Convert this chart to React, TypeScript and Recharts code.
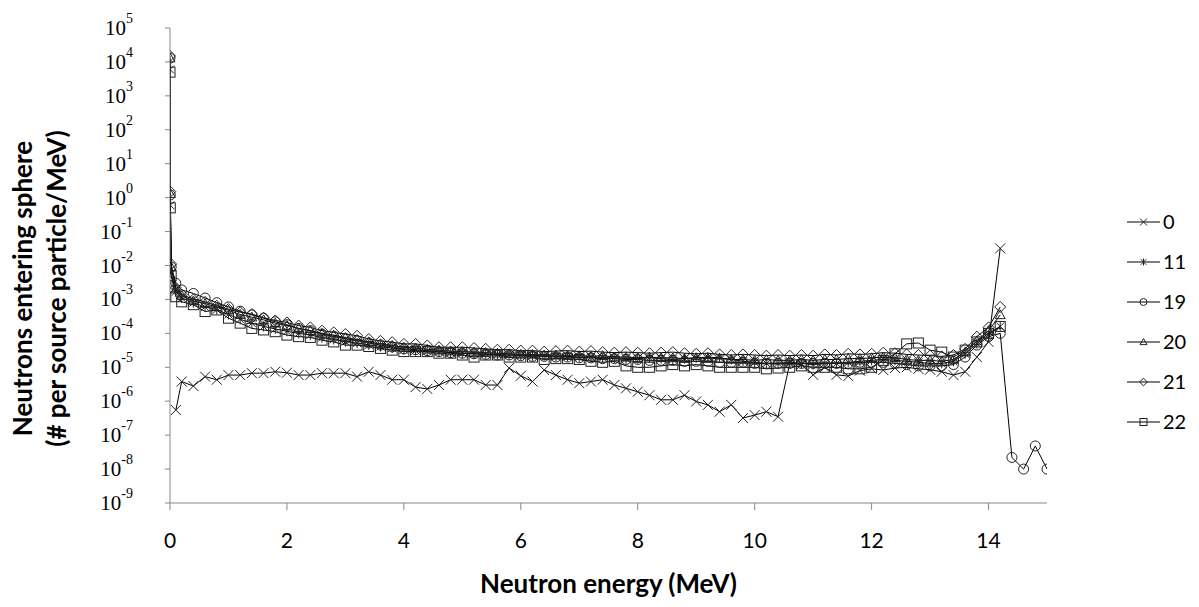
import React from 'react';
import { LineChart, Line, XAxis, YAxis, Legend } from 'recharts';

const ENERGY = [0, 0.005, 0.02, 0.1, 0.2, 0.4, 0.6, 0.8, 1, 1.2, 1.4, 1.6, 1.8, 2, 2.2, 2.4, 2.6, 2.8, 3, 3.2, 3.4, 3.6, 3.8, 4, 4.2, 4.4, 4.6, 4.8, 5, 5.2, 5.4, 5.6, 5.8, 6, 6.2, 6.4, 6.6, 6.8, 7, 7.2, 7.4, 7.6, 7.8, 8, 8.2, 8.4, 8.6, 8.8, 9, 9.2, 9.4, 9.6, 9.8, 10, 10.2, 10.4, 10.6, 10.8, 11, 11.2, 11.4, 11.6, 11.8, 12, 12.2, 12.4, 12.6, 12.8, 13, 13.2, 13.4, 13.6, 13.8, 14, 14.2, 14.4, 14.6, 14.8, 15];

const S0 = [null, null, null,
  5.5e-7, 3.8e-6, 2.8e-6, 5.3e-6, 4.3e-6, 5.9e-6, 5.9e-6, 6.7e-6, 6.7e-6, 7.4e-6, 6.9e-6, 5.9e-6, 5.9e-6, 6.7e-6, 6.7e-6, 6.7e-6, 5.3e-6, 7.4e-6, 5.9e-6, 4.3e-6, 4.3e-6, 2.6e-6, 2.3e-6, 3.0e-6, 4.3e-6, 4.3e-6, 4.3e-6, 3.0e-6, 3.0e-6, 9.5e-6, 5.6e-6, 3.8e-6, 8.3e-6, 5.9e-6, 4.3e-6, 3.4e-6, 3.8e-6, 4.3e-6, 3.0e-6, 2.4e-6, 1.9e-6, 1.5e-6, 1.1e-6, 1.1e-6, 1.5e-6, 9.8e-7, 7.8e-7, 4.9e-7, 7.8e-7, 3.2e-7, 3.9e-7, 4.9e-7, 3.5e-7, 1.3e-5, 1.2e-5, 6e-6, 1.0e-5, 6e-6, 5.5e-6, 8e-6, 9e-6, 8.3e-6, 9.5e-6, 1.0e-5, 9e-6, 8.5e-6, 7.4e-6, 5.9e-6, 7.4e-6, 2e-5, 5.6e-5, 3.2e-2,
  null, null, null, null];

const S11 = [6e3, 0.6, 6e-3,
  1.7e-3, 1.1e-3, 8e-4, 6e-4, 5e-4, 3.6e-4, 2.6e-4, 2.0e-4, 1.6e-4, 1.35e-4, 1.15e-4, 1.0e-4, 9e-5, 7.5e-5, 6.6e-5, 5.7e-5, 5.2e-5, 4.6e-5, 4.1e-5, 3.7e-5, 3.3e-5, 3.1e-5, 3.0e-5, 2.9e-5, 2.7e-5, 2.6e-5, 2.5e-5, 2.5e-5, 2.4e-5, 2.3e-5, 2.3e-5, 2.2e-5, 2.2e-5, 2.1e-5, 2.1e-5, 2.0e-5, 2.0e-5, 1.9e-5, 1.9e-5, 1.8e-5, 1.8e-5, 1.9e-5, 1.8e-5, 1.7e-5, 1.8e-5, 1.9e-5, 2.0e-5, 1.9e-5, 1.7e-5, 1.5e-5, 1.4e-5, 1.3e-5, 1.3e-5, 1.4e-5, 1.3e-5, 1.2e-5, 1.3e-5, 1.3e-5, 1.4e-5, 1.5e-5, 1.6e-5, 1.7e-5, 1.6e-5, 1.5e-5, 1.4e-5, 1.3e-5, 1.3e-5, 1.5e-5, 2.5e-5, 5e-5, 9e-5, 1.6e-4,
  null, null, null, null];

const S19 = [1.3e4, 1.2, 9e-3,
  3.0e-3, 1.9e-3, 1.5e-3, 1.1e-3, 8e-4, 6e-4, 4.5e-4, 3.5e-4, 2.8e-4, 2.2e-4, 1.8e-4, 1.4e-4, 1.2e-4, 9.5e-5, 8.2e-5, 7e-5, 6.1e-5, 5.2e-5, 4.5e-5, 4.0e-5, 3.5e-5, 3.3e-5, 3.1e-5, 2.9e-5, 2.7e-5, 2.6e-5, 2.5e-5, 2.4e-5, 2.3e-5, 2.3e-5, 2.2e-5, 2.1e-5, 2.1e-5, 2.0e-5, 2.0e-5, 1.9e-5, 1.9e-5, 1.8e-5, 1.8e-5, 1.7e-5, 1.7e-5, 1.6e-5, 1.6e-5, 1.6e-5, 1.5e-5, 1.5e-5, 1.5e-5, 1.4e-5, 1.4e-5, 1.4e-5, 1.3e-5, 1.3e-5, 1.3e-5, 1.3e-5, 1.3e-5, 1.3e-5, 1.3e-5, 1.3e-5, 1.3e-5, 1.4e-5, 1.4e-5, 1.4e-5, 1.3e-5, 1.2e-5, 1.1e-5, 1.1e-5, 1.1e-5, 1.2e-5, 2.0e-5, 4.5e-5, 8e-5, 1.0e-4,
  2.2e-8, 1.0e-8, 4.8e-8, 1.0e-8];

const S20 = [1.3e4, 1.3, 9e-3,
  2.0e-3, 1.3e-3, 9e-4, 7.5e-4, 6e-4, 4.8e-4, 3.6e-4, 3.0e-4, 2.5e-4, 2.0e-4, 1.7e-4, 1.4e-4, 1.2e-4, 1.0e-4, 8.8e-5, 7.5e-5, 6.6e-5, 5.6e-5, 4.9e-5, 4.4e-5, 3.9e-5, 3.7e-5, 3.4e-5, 3.2e-5, 3.0e-5, 2.9e-5, 2.8e-5, 2.7e-5, 2.6e-5, 2.5e-5, 2.4e-5, 2.4e-5, 2.3e-5, 2.3e-5, 2.2e-5, 2.2e-5, 2.1e-5, 2.2e-5, 2.0e-5, 2.0e-5, 1.9e-5, 2.0e-5, 1.9e-5, 1.9e-5, 1.8e-5, 1.9e-5, 1.8e-5, 1.8e-5, 1.7e-5, 1.7e-5, 1.6e-5, 1.7e-5, 1.6e-5, 1.6e-5, 1.7e-5, 1.6e-5, 1.7e-5, 1.7e-5, 1.8e-5, 1.8e-5, 1.9e-5, 2.0e-5, 1.9e-5, 1.7e-5, 1.6e-5, 1.6e-5, 1.5e-5, 1.7e-5, 2.8e-5, 6e-5, 1.2e-4, 3.5e-4,
  null, null, null, null];

const S21 = [1.5e4, 1.5, 1.1e-2,
  2.2e-3, 1.4e-3, 1.0e-3, 8.5e-4, 6.5e-4, 5.2e-4, 4.2e-4, 3.7e-4, 2.9e-4, 2.4e-4, 2.1e-4, 1.7e-4, 1.5e-4, 1.2e-4, 1.07e-4, 9.6e-5, 8.5e-5, 6.8e-5, 6.0e-5, 5.5e-5, 4.9e-5, 4.9e-5, 4.4e-5, 3.9e-5, 3.9e-5, 3.9e-5, 3.7e-5, 3.5e-5, 3.3e-5, 3.3e-5, 3.1e-5, 3.1e-5, 2.9e-5, 3.0e-5, 3.1e-5, 2.9e-5, 3.0e-5, 2.8e-5, 2.7e-5, 2.8e-5, 2.7e-5, 2.6e-5, 2.7e-5, 2.8e-5, 2.6e-5, 2.5e-5, 2.6e-5, 2.4e-5, 2.3e-5, 2.4e-5, 2.3e-5, 2.2e-5, 2.3e-5, 2.2e-5, 2.3e-5, 2.2e-5, 2.4e-5, 2.3e-5, 2.5e-5, 2.4e-5, 2.5e-5, 2.7e-5, 2.6e-5, 2.4e-5, 2.3e-5, 2.2e-5, 2.1e-5, 2.3e-5, 3.5e-5, 8e-5, 1.5e-4, 6e-4,
  null, null, null, null];

const S22 = [5e3, 0.5, 5e-3,
  1.2e-3, 8.5e-4, 7e-4, 4.4e-4, 4.9e-4, 2.8e-4, 2.0e-4, 1.4e-4, 1.26e-4, 1.12e-4, 8.9e-5, 8e-5, 7.6e-5, 6.3e-5, 5.6e-5, 4.5e-5, 4.5e-5, 4.1e-5, 3.6e-5, 3.2e-5, 2.9e-5, 2.9e-5, 2.9e-5, 2.6e-5, 2.6e-5, 2.3e-5, 2.0e-5, 2.3e-5, 2.3e-5, 2.0e-5, 2.0e-5, 2.0e-5, 1.7e-5, 1.8e-5, 1.8e-5, 1.7e-5, 1.5e-5, 1.4e-5, 1.5e-5, 1.1e-5, 1.0e-5, 1.0e-5, 1.1e-5, 1.2e-5, 1.1e-5, 1.2e-5, 1.1e-5, 1.0e-5, 1.0e-5, 1.0e-5, 1.0e-5, 9e-6, 9.5e-6, 1.0e-5, 1.1e-5, 1.0e-5, 1.0e-5, 1.0e-5, 9e-6, 9e-6, 1.0e-5, 1.6e-5, 2.5e-5, 4.9e-5, 5.2e-5, 3.2e-5, 2.8e-5, 2.0e-5, 3.2e-5, 5.6e-5, 1.0e-4, 1.6e-4,
  null, null, null, null];

const SERIES_NAMES = ['0', '11', '19', '20', '21', '22'];
const SERIES_SHAPES = ['cross', 'asterisk', 'circle', 'triangle', 'diamond', 'square'];
const SERIES_VALUES = [S0, S11, S19, S20, S21, S22];

const X_TICKS = [0, 2, 4, 6, 8, 10, 12, 14];
const Y_TICKS = [1e-9, 1e-8, 1e-7, 1e-6, 1e-5, 1e-4, 1e-3, 1e-2, 1e-1, 1e0, 1e1, 1e2, 1e3, 1e4, 1e5];

const FONT = 'Lato, "Open Sans", sans-serif';
const SERIF = '"Liberation Serif", "DejaVu Serif", serif';
const AXIS_GREY = '#868686';
const MARK = '#222';

function Marker({ shape, cx, cy, s }: { shape: string; cx: number; cy: number; s: number }) {
  const common = { fill: 'none', stroke: MARK, strokeWidth: 1 };
  switch (shape) {
    case 'cross':
      return <path d={`M${cx - s},${cy - s}L${cx + s},${cy + s}M${cx - s},${cy + s}L${cx + s},${cy - s}`} {...common} />;
    case 'asterisk': {
      const d = s * 0.8;
      return <path d={`M${cx - d},${cy - d}L${cx + d},${cy + d}M${cx - d},${cy + d}L${cx + d},${cy - d}M${cx},${cy - s}L${cx},${cy + s}`} {...common} />;
    }
    case 'circle':
      return <circle cx={cx} cy={cy} r={s} {...common} />;
    case 'triangle':
      return <path d={`M${cx},${cy - s}L${cx + s},${cy + s * 0.75}L${cx - s},${cy + s * 0.75}Z`} {...common} />;
    case 'diamond':
      return <path d={`M${cx},${cy - s * 1.1}L${cx + s * 1.1},${cy}L${cx},${cy + s * 1.1}L${cx - s * 1.1},${cy}Z`} {...common} />;
    default:
      return <rect x={cx - s} y={cy - s} width={2 * s} height={2 * s} {...common} />;
  }
}

const makeDot = (shape: string) => (props: any) => {
  const { cx, cy, index } = props;
  if (cx == null || cy == null || isNaN(cx) || isNaN(cy)) return <g key={`e-${shape}-${index}`} />;
  return (
    <g key={`d-${shape}-${index}`}>
      <Marker shape={shape} cx={cx} cy={cy} s={5} />
    </g>
  );
};

const YTick = (props: any) => {
  const { x, y, payload } = props;
  const e = Math.round(Math.log10(payload.value));
  return (
    <text x={x} y={y + 7} textAnchor="end" fontFamily={SERIF} fontSize={21} fill="#000">
      <tspan>10</tspan>
      <tspan dy={-12} fontSize={14}>{String(e)}</tspan>
    </text>
  );
};

const XTick = (props: any) => {
  const { x, y, payload } = props;
  return (
    <text x={x} y={y + 15} textAnchor="middle" fontFamily={FONT} fontSize={21} fill="#000">
      {payload.value}
    </text>
  );
};

const XTitle = (props: any) => {
  const vb = props.viewBox || {};
  return (
    <text x={vb.x + vb.width / 2} y={vb.y + 90} textAnchor="middle" fontFamily={FONT} fontWeight="bold" fontSize={26} fill="#000">
      Neutron energy (MeV)
    </text>
  );
};

const YTitle = (props: any) => {
  const vb = props.viewBox || {};
  const cy = vb.y + vb.height / 2 + 23;
  return (
    <g>
      <text x={32} y={cy} transform={`rotate(-90, 32, ${cy})`} textAnchor="middle" fontFamily={FONT} fontWeight="bold" fontSize={26} fill="#000">
        Neutrons entering sphere
      </text>
      <text x={66} y={cy} transform={`rotate(-90, 66, ${cy})`} textAnchor="middle" fontFamily={FONT} fontWeight="bold" fontSize={26} fill="#000">
        (# per source particle/MeV)
      </text>
    </g>
  );
};

const LegendContent = () => (
  <svg width={72} height={230} style={{ display: 'block', overflow: 'visible' }}>
    {SERIES_NAMES.map((name, i) => {
      const cy = 10 + i * 40;
      return (
        <g key={name}>
          <line x1={2} x2={35} y1={cy} y2={cy} stroke="#000" strokeWidth={1} />
          <Marker shape={SERIES_SHAPES[i]} cx={18.5} cy={cy} s={3.5} />
          <text x={38} y={cy + 7} fontFamily={FONT} fontSize={20} fill="#000">{name}</text>
        </g>
      );
    })}
  </svg>
);

export default function App() {
  const seriesData = SERIES_VALUES.map((vals) =>
    ENERGY.map((x, i) => ({ x, y: vals[i] })).filter((p) => p.y != null)
  );
  return (
    <div style={{ position: 'absolute', left: 0, top: 0, width: 1199, height: 607, background: '#fff' }}>
      <LineChart width={1199} height={607} margin={{ top: 28, right: 152, bottom: 0, left: 0 }}>
        <XAxis
          type="number"
          dataKey="x"
          domain={[0, 15]}
          ticks={X_TICKS}
          allowDataOverflow
          height={104}
          axisLine={{ stroke: AXIS_GREY }}
          tickLine={{ stroke: AXIS_GREY }}
          tickSize={7}
          tickMargin={23}
          tick={<XTick />}
          label={<XTitle />}
        />
        <YAxis
          type="number"
          dataKey="y"
          scale="log"
          domain={[1e-9, 1e5]}
          ticks={Y_TICKS}
          allowDataOverflow
          width={170}
          axisLine={{ stroke: AXIS_GREY }}
          tickLine={{ stroke: AXIS_GREY }}
          tickSize={5}
          tickMargin={32}
          tick={<YTick />}
          label={<YTitle />}
          interval={0}
        />
        <Legend
          layout="vertical"
          align="center"
          verticalAlign="middle"
          content={<LegendContent />}
          wrapperStyle={{ position: 'absolute', left: 1125, top: 212, width: 72, height: 230 }}
        />
        {SERIES_NAMES.map((name, i) => (
          <Line
            key={name}
            name={name}
            data={seriesData[i]}
            dataKey="y"
            type="linear"
            stroke="#000"
            strokeWidth={1}
            dot={makeDot(SERIES_SHAPES[i])}
            activeDot={false}
            isAnimationActive={false}
            legendType="none"
          />
        ))}
      </LineChart>
    </div>
  );
}
